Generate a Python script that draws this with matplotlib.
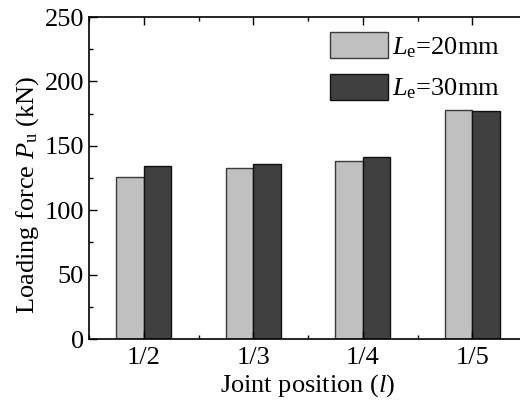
import numpy as np
import matplotlib
matplotlib.use("Agg")
import matplotlib.pyplot as plt
from matplotlib.ticker import MultipleLocator

plt.rcParams['font.family'] = 'Liberation Serif'
plt.rcParams['mathtext.fontset'] = 'custom'
plt.rcParams['mathtext.rm'] = 'Liberation Serif'
plt.rcParams['mathtext.it'] = 'Liberation Serif:italic'

positions = ['1/2', '1/3', '1/4', '1/5']
pu_20 = [126, 132.8, 138.4, 177.8]
pu_30 = [134.3, 136.1, 141.3, 177.0]

fig = plt.figure(figsize=(5.2, 4.07), dpi=100)
ax = fig.add_axes([0.171, 0.167, 0.843, 0.791])

x = np.arange(len(positions))
w = 0.25
ax.bar(x - w/2, pu_20, w, color='#c0c0c0', edgecolor='#3a3a3a', linewidth=1,
       label=r'$L_{\mathrm{e}}$=20mm')
ax.bar(x + w/2, pu_30, w, color='#404040', edgecolor='#111111', linewidth=1,
       label=r'$L_{\mathrm{e}}$=30mm')

ax.set_xlim(-0.5, 3.5)
ax.set_ylim(0, 250)
ax.set_xticks(x)
ax.set_xticklabels(positions)
ax.xaxis.set_minor_locator(MultipleLocator(0.5))
ax.yaxis.set_major_locator(MultipleLocator(50))
ax.yaxis.set_minor_locator(MultipleLocator(25))
ax.tick_params(which='both', direction='in', top=True, right=False,
               labelsize=19, width=1)
ax.tick_params(axis='x', pad=6)
ax.tick_params(which='major', length=6)
ax.tick_params(which='minor', length=3)
for s in ax.spines.values():
    s.set_linewidth(1.2)

ax.set_xlabel(r'Joint position ($\mathit{l}$)', fontsize=19, labelpad=2)
ax.set_ylabel(r'Loading force $P_{\mathrm{u}}$ (kN)', fontsize=19)
ax.yaxis.set_label_coords(-0.11, 0.447)

ax.legend(loc='upper left', bbox_to_anchor=(0.525, 0.985), frameon=False,
          fontsize=19, handlelength=2.2, handleheight=1.1, handletextpad=0.15,
          labelspacing=0.55, borderaxespad=0)

fig.savefig('out.png', dpi=100)
